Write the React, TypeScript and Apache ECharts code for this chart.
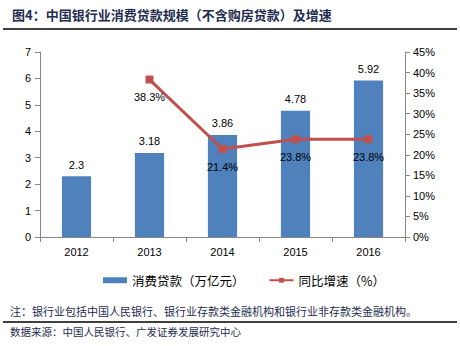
import React, { useEffect, useRef } from "react";
import * as echarts from "echarts";

const categories = ["2012", "2013", "2014", "2015", "2016"];
const loanValues = [2.3, 3.18, 3.86, 4.78, 5.92];
const growthValues: (number | null)[] = [null, 38.3, 21.4, 23.8, 23.8];
const titleText = "图4：中国银行业消费贷款规模（不含购房贷款）及增速";
const noteText = "注：银行业包括中国人民银行、银行业存款类金融机构和银行业非存款类金融机构。";
const sourceText = "数据来源：中国人民银行、广发证券发展研究中心";
const barName = "消费贷款（万亿元）";
const lineName = "同比增速（%）";

const CJK = '"Noto Sans CJK SC", sans-serif';
const LAT = '"Liberation Sans", Arial, sans-serif';

export default function App() {
  const ref = useRef<HTMLDivElement>(null);
  useEffect(() => {
    if (!ref.current) return;
    const chart = echarts.init(ref.current, undefined, { renderer: "svg" });
    chart.setOption({
      animation: false,
      backgroundColor: "#ffffff",
      grid: { left: 40, right: 55, top: 52, bottom: 109, containLabel: false },
      legend: {
        top: 269,
        left: 98,
        itemWidth: 24,
        itemHeight: 6,
        itemGap: 24,
        textStyle: { fontFamily: CJK, fontSize: 12.5, color: "#000" },
        data: [
          { name: barName, icon: "rect" },
          { name: lineName },
        ],
      },
      xAxis: {
        type: "category",
        data: categories,
        axisLine: { lineStyle: { color: "#888", width: 1 } },
        axisTick: { show: true, alignWithLabel: false, length: 5, lineStyle: { color: "#888" } },
        axisLabel: { fontFamily: LAT, fontSize: 11, color: "#000", margin: 9 },
      },
      yAxis: [
        {
          type: "value",
          min: 0,
          max: 7,
          interval: 1,
          splitLine: { show: false },
          axisLine: { show: true, lineStyle: { color: "#888" } },
          axisTick: { show: true, length: 5, lineStyle: { color: "#888" } },
          axisLabel: { fontFamily: LAT, fontSize: 11, color: "#000", margin: 9 },
        },
        {
          type: "value",
          min: 0,
          max: 45,
          interval: 5,
          position: "right",
          splitLine: { show: false },
          axisLine: { show: true, lineStyle: { color: "#888" } },
          axisTick: { show: true, length: 5, lineStyle: { color: "#888" } },
          axisLabel: { fontFamily: LAT, fontSize: 11, color: "#000", margin: 8, formatter: "{value}%" },
        },
      ],
      series: [
        {
          name: barName,
          type: "bar",
          data: loanValues,
          barWidth: "40%",
          itemStyle: { color: "#4F81BD" },
          label: { show: true, position: "top", fontFamily: LAT, fontSize: 11, color: "#000", distance: 6 },
        },
        {
          name: lineName,
          type: "line",
          yAxisIndex: 1,
          data: growthValues,
          connectNulls: false,
          symbol: "rect",
          symbolSize: 8,
          itemStyle: { color: "#C0504D" },
          lineStyle: { color: "#C0504D", width: 3 },
          label: {
            show: true,
            position: "bottom",
            distance: 8,
            fontFamily: LAT,
            fontSize: 11,
            color: "#000",
            formatter: "{c}%",
          },
        },
      ],
      graphic: [
        {
          type: "text",
          left: 12,
          top: 8,
          style: { text: titleText, font: `bold 13px ${CJK}`, fill: "#1F2D4F" },
        },
        {
          type: "line",
          shape: { x1: 3, y1: 29, x2: 457, y2: 29 },
          style: { stroke: "#000", lineWidth: 1.5 },
        },
        {
          type: "text",
          left: 10,
          top: 305,
          style: { text: noteText, font: `11px ${CJK}`, fill: "#1F2D4F" },
        },
        {
          type: "line",
          shape: { x1: 3, y1: 322, x2: 457, y2: 322 },
          style: { stroke: "#000", lineWidth: 1.5 },
        },
        {
          type: "text",
          left: 10,
          top: 326,
          style: { text: sourceText, font: `10.5px ${CJK}`, fill: "#1F2D4F" },
        },
      ],
    });
    return () => chart.dispose();
  }, []);
  return <div ref={ref} style={{ width: 460, height: 346, position: "absolute", left: 0, top: 0 }} />;
}
